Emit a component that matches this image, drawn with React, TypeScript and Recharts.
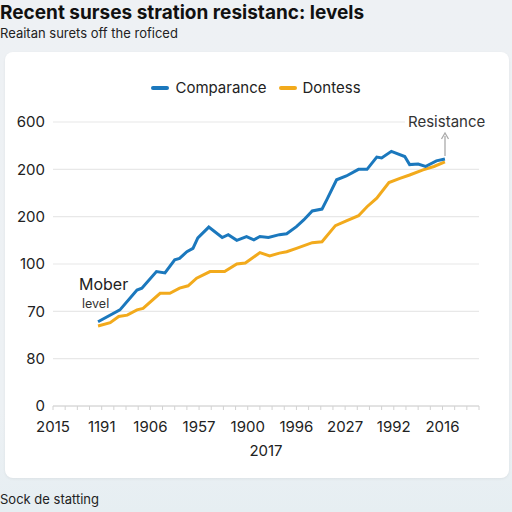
import { LineChart, Line, XAxis, YAxis, CartesianGrid } from 'recharts';

const F = 'Inter, "Noto Sans", sans-serif';
const BLUE = '#1b78bd';
const ORANGE = '#f2aa1c';

// y axis: evenly spaced ticks with the labels as printed
const Y_LABELS = ['0', '80', '70', '100', '200', '200', '600'];
// x axis: one tick per step, label every 4th step
const X_LABELS = ['2015', '1191', '1906', '1957', '1900', '1996', '2027', '1992', '2016'];
const X_STEPS = 35;

const blueX = [3.7, 5.5, 6.9, 7.3, 8.5, 9.2, 10.0, 10.4, 11.0, 11.5, 11.9, 12.8, 13.9, 14.4, 15.1, 15.9, 16.5, 17.0, 17.7, 18.6, 19.2, 20.0, 20.6, 21.3, 22.1, 22.5, 23.3, 24.1, 25.1, 25.8, 26.6, 27.0, 27.8, 28.9, 29.3, 30.0, 30.6, 31.5, 32.2];
const blueY = [1.78, 2.03, 2.45, 2.49, 2.84, 2.81, 3.09, 3.12, 3.26, 3.33, 3.55, 3.78, 3.56, 3.62, 3.5, 3.58, 3.51, 3.58, 3.56, 3.62, 3.64, 3.79, 3.93, 4.12, 4.16, 4.36, 4.78, 4.86, 5.0, 5.0, 5.26, 5.24, 5.38, 5.27, 5.1, 5.11, 5.06, 5.18, 5.22];

const orangeX = [3.7, 4.7, 5.4, 6.1, 6.9, 7.4, 8.8, 9.6, 10.4, 11.1, 11.8, 12.9, 14.1, 15.1, 15.8, 17.0, 17.8, 18.6, 19.2, 20.0, 21.3, 22.1, 23.2, 24.1, 25.1, 25.8, 26.6, 27.6, 28.5, 29.3, 30.4, 31.3, 32.2];
const orangeY = [1.69, 1.76, 1.89, 1.92, 2.03, 2.06, 2.38, 2.38, 2.49, 2.54, 2.7, 2.84, 2.84, 3.0, 3.02, 3.24, 3.17, 3.23, 3.26, 3.33, 3.45, 3.47, 3.81, 3.91, 4.02, 4.21, 4.39, 4.72, 4.81, 4.88, 4.99, 5.06, 5.16];

const blueData = blueX.map((x, i) => ({ x, v: blueY[i] }));
const orangeData = orangeX.map((x, i) => ({ x, v: orangeY[i] }));
const xTicks = Array.from({ length: X_STEPS + 1 }, (_, i) => i);
const yTicks = Y_LABELS.map((_, i) => i);

const XTick = (props: any) => {
  const { x, y, payload } = props;
  const i = payload.value as number;
  if (i % 4 !== 0 || !X_LABELS[i / 4]) return null;
  return (
    <text x={x} y={y + 20} textAnchor="middle" fontSize={15} fill="#222" fontFamily={F}>
      {X_LABELS[i / 4]}
    </text>
  );
};

export default function App() {
  return (
    <div
      style={{
        position: 'absolute',
        left: 0,
        top: 0,
        width: 512,
        height: 512,
        overflow: 'hidden',
        fontFamily: F,
        background: 'linear-gradient(180deg, #eef1f4 0%, #edf1f4 80%, #e6eef2 100%)',
      }}
    >
      <div style={{ position: 'absolute', left: 0, top: 1, fontSize: 19, fontWeight: 700, color: '#111', whiteSpace: 'nowrap' }}>
        Recent surses stration resistanc: levels
      </div>
      <div style={{ position: 'absolute', left: 0, top: 25, fontSize: 13, color: '#222', whiteSpace: 'nowrap' }}>
        Reaitan surets off the roficed
      </div>
      <div
        style={{
          position: 'absolute',
          left: 5,
          top: 52,
          width: 504,
          height: 426,
          background: '#fff',
          borderRadius: 8,
          boxShadow: '0 1px 3px rgba(0,0,0,0.06)',
        }}
      />
      <div style={{ position: 'absolute', left: 0, top: 491, fontSize: 13, color: '#222', whiteSpace: 'nowrap' }}>
        Sock de statting
      </div>

      <div style={{ position: 'absolute', left: 0, top: 0 }}>
        <LineChart width={512} height={512} margin={{ top: 122, right: 33, bottom: 54, left: 8 }}>
          <CartesianGrid horizontal vertical={false} stroke="#e8e8e8" strokeWidth={1.2} />
          <XAxis
            type="number"
            dataKey="x"
            domain={[0, X_STEPS]}
            ticks={xTicks}
            interval={0}
            tick={<XTick />}
            tickSize={4}
            stroke="#d2d2d2"
            height={52}
            label={{ value: '2017', position: 'insideBottom', offset: 2, fontSize: 15, fill: '#222', fontFamily: F }}
          />
          <YAxis
            type="number"
            domain={[0, 6]}
            ticks={yTicks}
            interval={0}
            width={45}
            axisLine={false}
            tickLine={false}
            tickFormatter={(v: number) => Y_LABELS[v]}
            tick={{ fontSize: 15, fill: '#222', fontFamily: F }}
          />
          <Line data={orangeData} dataKey="v" stroke={ORANGE} strokeWidth={3} dot={false} isAnimationActive={false} />
          <Line data={blueData} dataKey="v" stroke={BLUE} strokeWidth={3} dot={false} isAnimationActive={false} />
        </LineChart>
      </div>

      {/* legend */}
      <div style={{ position: 'absolute', left: 0, top: 78, width: 512, display: 'flex', justifyContent: 'center', fontSize: 15, color: '#222' }}>
        <div style={{ display: 'flex', alignItems: 'center' }}>
          <span style={{ width: 18, height: 4, borderRadius: 2, background: BLUE, marginRight: 6 }} />
          Comparance
          <span style={{ width: 18, height: 4, borderRadius: 2, background: ORANGE, margin: '0 6px 0 12px' }} />
          Dontess
        </div>
      </div>

      {/* annotations */}
      <div style={{ position: 'absolute', left: 405, top: 112, padding: '0 3px', background: '#fff', fontSize: 15, color: '#333' }}>
        Resistance
      </div>
      <svg width={512} height={512} style={{ position: 'absolute', left: 0, top: 0, pointerEvents: 'none' }}>
        <line x1={445} y1={156} x2={445} y2={136} stroke="#aaa" strokeWidth={1.3} />
        <path d="M441.5 139 L445 133 L448.5 139" fill="none" stroke="#aaa" strokeWidth={1.3} />
      </svg>
      <div style={{ position: 'absolute', left: 79, top: 274, fontSize: 16, color: '#222' }}>Mober</div>
      <div style={{ position: 'absolute', left: 82, top: 296, fontSize: 12.5, color: '#333' }}>level</div>
    </div>
  );
}
